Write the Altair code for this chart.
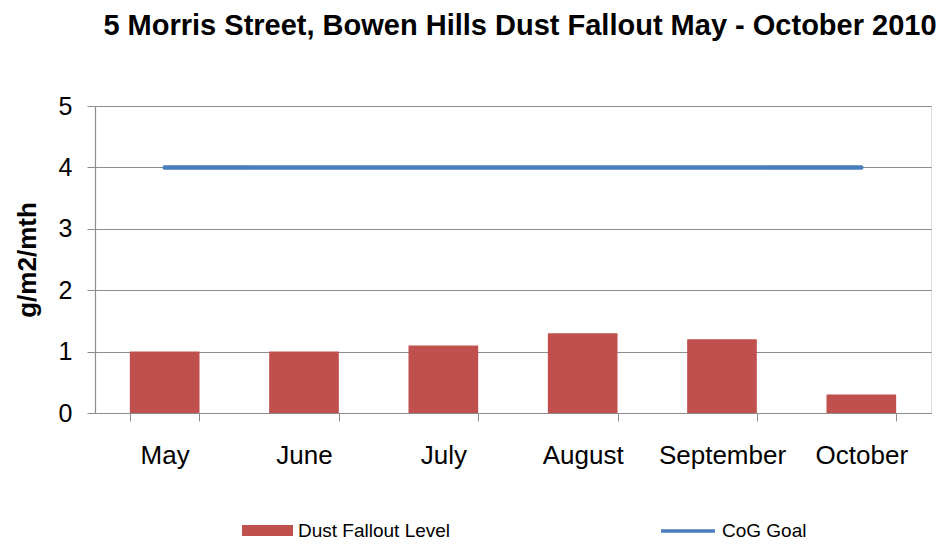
import altair as alt
import pandas as pd

months = ["May", "June", "July", "August", "September", "October"]
dust = [1.0, 1.0, 1.1, 1.3, 1.2, 0.3]
goal = [4, 4, 4, 4, 4, 4]

df = pd.DataFrame({
    "month": months,
    "dust": dust,
    "goal": goal,
    "s1": ["Dust Fallout Level"] * len(months),
    "s2": ["CoG Goal"] * len(months),
})

FONT = "Liberation Sans"
GRID = "#8c8c8c"

x = alt.X(
    "month:N",
    sort=months,
    title=None,
    scale=alt.Scale(paddingInner=0.5, paddingOuter=0.25),
    axis=alt.Axis(
        labelAngle=0, labelFontSize=26, labelFont=FONT, labelColor="#000000",
        labelPadding=21, tickBand="extent", tickSize=8, tickColor=GRID,
        domainColor=GRID, domainWidth=1.2, grid=False, labelOverlap=False,
    ),
)

yaxis = alt.Axis(
    values=[0, 1, 2, 3, 4, 5], labelFontSize=25, labelOverlap=False,
    labelFont=FONT, labelColor="#000000", labelPadding=15,
    tickSize=8, tickColor=GRID, domainColor=GRID, domainWidth=1.2,
    gridColor=GRID, gridWidth=1.2, titleFont=FONT, titleFontSize=26,
    titleFontWeight="bold", titleColor="#000000", titlePadding=18,
)
yscale = alt.Scale(domain=[0, 5])

bars = alt.Chart(df).mark_bar(color="#C0504D").encode(
    x=x,
    y=alt.Y("dust:Q", scale=yscale, title="g/m2/mth", axis=yaxis),
    fill=alt.Fill(
        "s1:N",
        scale=alt.Scale(range=["#C0504D"]),
        legend=alt.Legend(
            title=None, orient="none", legendX=147, legendY=399,
            symbolType="M-1,-0.22H1V0.22H-1Z", symbolSize=2600,
            symbolStrokeWidth=0, labelFontSize=19, labelFont=FONT,
            labelColor="#000000", labelOffset=5,
        ),
    ),
)

line = alt.Chart(df).mark_line(strokeWidth=4.5, strokeCap="round").encode(
    x=x,
    y=alt.Y("goal:Q", scale=yscale, title="g/m2/mth", axis=yaxis),
    stroke=alt.Stroke(
        "s2:N",
        scale=alt.Scale(range=["#4A7EBB"]),
        legend=alt.Legend(
            title=None, orient="none", legendX=564, legendY=396,
            symbolType="stroke", symbolSize=2900, symbolStrokeWidth=3.5,
            labelFontSize=19, labelFont=FONT, labelColor="#000000",
            labelOffset=5,
        ),
    ),
)

chart = alt.layer(bars, line).properties(
    width=836,
    height=307,
    autosize=alt.AutoSizeParams(type="none"),
    padding={"left": 87, "top": 98, "right": 5, "bottom": 128},
    title=alt.TitleParams(
        "5 Morris Street, Bowen Hills Dust Fallout May - October 2010",
        font=FONT, fontSize=29, fontWeight="bold", color="#000000",
        anchor="middle", frame="group", offset=53, dx=7,
    ),
).configure_view(stroke=None).configure(background="white")

chart.save("out.html", embed_options={"renderer": "svg", "actions": False})
